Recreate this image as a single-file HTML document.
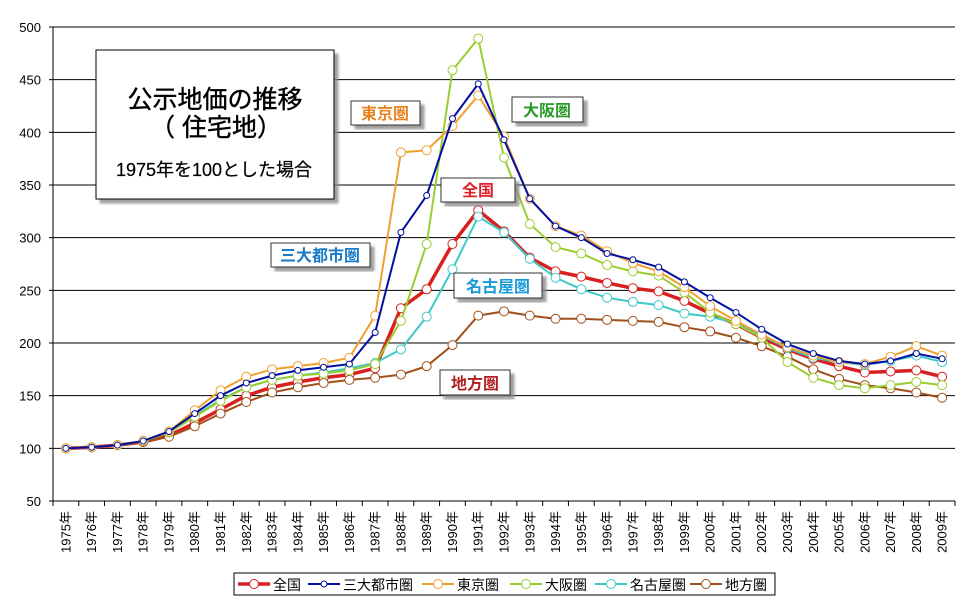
<!DOCTYPE html>
<html><head><meta charset="utf-8">
<style>
body{margin:0;background:#fff;}
svg{display:block;font-family:"Liberation Sans","Noto Sans CJK JP",sans-serif;}
</style></head>
<body>
<svg id="c" width="970" height="604" xmlns="http://www.w3.org/2000/svg">
<defs><filter id="sh" x="-10%" y="-10%" width="130%" height="130%"><feDropShadow dx="4" dy="4" stdDeviation="1.2" flood-color="#888" flood-opacity="0.8"/></filter></defs>
<g id="grid"></g>
<g id="series"></g>
<g id="boxes">
<rect x="96" y="50" width="238" height="149" fill="#fff" stroke="#000" stroke-width="1" filter="url(#sh)"/>
<text x="215" y="108" font-size="25" text-anchor="middle" stroke="#000" stroke-width="0.4">公示地価の推移</text>
<text x="216" y="136" font-size="25" text-anchor="middle" stroke="#000" stroke-width="0.4">（ 住宅地）</text>
<text x="214" y="176" font-size="18" text-anchor="middle" stroke="#000" stroke-width="0.2">1975年を100とした場合</text>

<rect x="351" y="101" width="69" height="24" fill="#fff" stroke="#333" filter="url(#sh)"/>
<text x="385" y="119" font-size="16" font-weight="bold" fill="#e8821e" text-anchor="middle">東京圏</text>
<rect x="512" y="97" width="71" height="25" fill="#fff" stroke="#333" filter="url(#sh)"/>
<text x="547" y="116" font-size="16" font-weight="bold" fill="#2a9a2a" text-anchor="middle">大阪圏</text>
<rect x="441" y="178" width="74" height="24" fill="#fff" stroke="#333" filter="url(#sh)"/>
<text x="478" y="196" font-size="16" font-weight="bold" fill="#e0202a" text-anchor="middle">全国</text>
<rect x="271" y="243" width="99" height="24" fill="#fff" stroke="#333" filter="url(#sh)"/>
<text x="320" y="261" font-size="16" font-weight="bold" fill="#1a7ac8" text-anchor="middle">三大都市圏</text>
<rect x="454" y="273" width="88" height="25" fill="#fff" stroke="#333" filter="url(#sh)"/>
<text x="498" y="292" font-size="16" font-weight="bold" fill="#1a9ad8" text-anchor="middle">名古屋圏</text>
<rect x="440" y="370" width="70" height="25" fill="#fff" stroke="#333" filter="url(#sh)"/>
<text x="475" y="389" font-size="16" font-weight="bold" fill="#b02020" text-anchor="middle">地方圏</text>
</g>
<g id="legend"></g>
</svg>
<script>
const NS="http://www.w3.org/2000/svg";
function el(p,t,a,txt){const e=document.createElementNS(NS,t);for(const k in a)e.setAttribute(k,a[k]);if(txt!==undefined)e.textContent=txt;p.appendChild(e);return e;}
const L=53,R=955,T=27,B=501;
const Y=v=>B-(v-50)*(B-T)/450;
const W=(R-L)/35;
const X=i=>L+W/2+i*W;
const g=document.getElementById('grid');
for(let v=50;v<=500;v+=50){
  const y=Y(v);
  if(v>50)el(g,'line',{x1:L,x2:R,y1:y,y2:y,stroke:'#000','stroke-width':1});
  el(g,'line',{x1:L-4,x2:L,y1:y,y2:y,stroke:'#000'});
  el(g,'text',{x:41,y:y+5,'font-size':13,'text-anchor':'end'},v);
}
el(g,'line',{x1:L,x2:L,y1:T,y2:B,stroke:'#000'});
el(g,'line',{x1:L,x2:R,y1:B,y2:B,stroke:'#000'});
for(let i=0;i<=35;i++){const x=L+i*W;el(g,'line',{x1:x,x2:x,y1:B,y2:B+5,stroke:'#000'});}
for(let i=0;i<35;i++){const x=X(i)+4.5;el(g,'text',{x:0,y:0,'font-size':13,'text-anchor':'end',transform:`translate(${x},${511}) rotate(-90)`},(1975+i)+'年');}
const S=[
 ['全国','#d82020',3.5,4.5,[100,101,103,106,112,124,137,150,158,163,167,170,176,233,251,294,326,306,281,268,263,257,252,249,240,228,218,205,194,185,178,172,173,174,168]],
 ['地方圏','#a0501a',2,4.5,[100,101,103,106,111,121,133,144,153,158,162,165,167,170,178,198,226,230,226,223,223,222,221,220,215,211,205,197,187,175,166,160,157,153,148]],
 ['名古屋圏','#40c8c8',2,4.5,[100,101,103,107,115,131,146,158,165,169,172,176,181,194,225,270,320,305,280,262,251,243,239,236,228,225,219,207,195,186,182,179,183,188,182]],
 ['大阪圏','#9acd32',2,4.5,[100,101,103,107,115,130,145,158,165,169,171,174,180,221,294,459,489,376,313,291,285,274,268,264,248,229,218,205,182,167,160,157,160,163,160]],
 ['東京圏','#f0a030',2,4.5,[100,101,103,107,116,136,155,168,175,178,181,186,226,381,383,406,435,396,337,311,302,287,276,268,253,235,221,208,196,188,182,180,187,197,188]],
 ['三大都市圏','#0010a0',2,3,[100,101,103,107,116,133,150,162,169,174,177,180,210,305,340,413,446,393,337,311,300,285,279,272,258,243,229,213,199,190,183,180,183,190,185]],
];
const sg=document.getElementById('series');
S.forEach(s=>{
  el(sg,'polyline',{points:s[4].map((v,i)=>X(i)+','+Y(v)).join(' '),fill:'none',stroke:s[1],'stroke-width':s[2]});
  s[4].forEach((v,i)=>el(sg,'circle',{cx:X(i),cy:Y(v),r:s[3],fill:'#fff',stroke:s[1],'stroke-width':1}));
});
const lg=document.getElementById('legend');
el(lg,'rect',{x:234,y:573,width:541,height:22,fill:'#fff',stroke:'#000'});
const order=[0,5,4,3,2,1];const xs=[238,308,422,510,595,690];
order.forEach((k,j)=>{const s=S[k],x=xs[j];
 el(lg,'line',{x1:x,x2:x+32,y1:584,y2:584,stroke:s[1],'stroke-width':s[2]});
 el(lg,'circle',{cx:x+16,cy:584,r:s[3],fill:'#fff',stroke:s[1]});
 el(lg,'text',{x:x+35,y:590,'font-size':14},s[0]);
});
</script>
</body></html>
